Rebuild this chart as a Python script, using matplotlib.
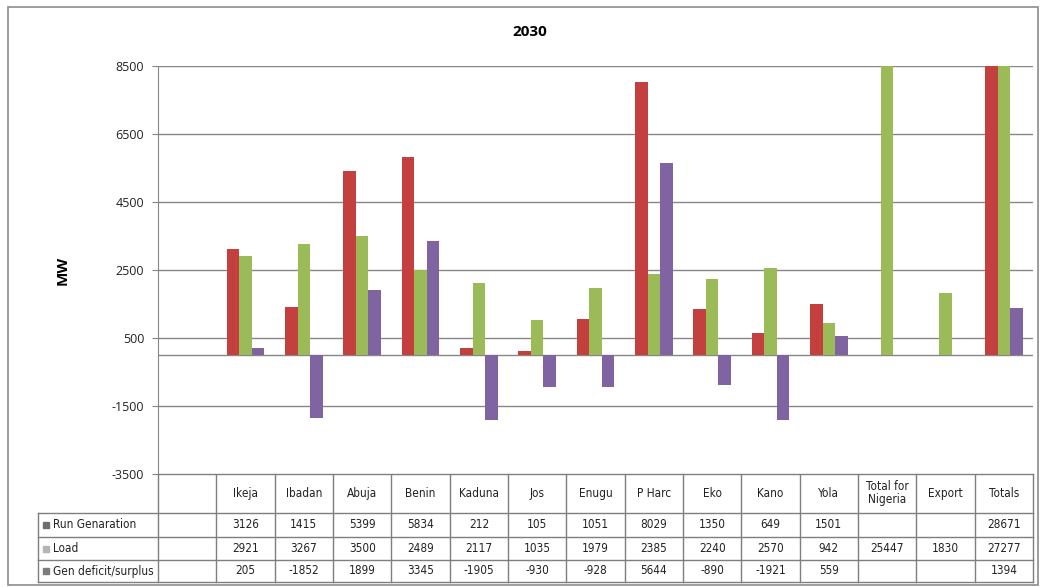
import numpy as np
import matplotlib.pyplot as plt
from matplotlib.patches import Rectangle

# first slot of the category axis is left blank in the source workbook
regions = ['', 'Ikeja', 'Ibadan', 'Abuja', 'Benin', 'Kaduna', 'Jos', 'Enugu', 'P Harc',
           'Eko', 'Kano', 'Yola', 'Total for\nNigeria', 'Export', 'Totals']
nan = np.nan
run_gen = [nan, 3126, 1415, 5399, 5834, 212, 105, 1051, 8029, 1350, 649, 1501, nan, nan, 28671]
load = [nan, 2921, 3267, 3500, 2489, 2117, 1035, 1979, 2385, 2240, 2570, 942, 25447, 1830, 27277]
gen_balance = [nan, 205, -1852, 1899, 3345, -1905, -930, -928, 5644, -890, -1921, 559, nan, nan, 1394]

series_names = ['Run Genaration', 'Load', 'Gen deficit/surplus']
series_colors = ['#C4403F', '#9BBB59', '#8064A2']
key_colors = ['#6E6E6E', '#B4B4B4', '#7C7C7C']
y_ticks = [-3500, -1500, 500, 2500, 4500, 6500, 8500]

W, H = 1043, 587
fig = plt.figure(figsize=(W / 100, H / 100), dpi=100)

# plot area in pixels
px_left, px_right, px_top, px_bottom = 158, 1033, 66, 474
ax = fig.add_axes([px_left / W, 1 - px_bottom / H,
                   (px_right - px_left) / W, (px_bottom - px_top) / H])

n = len(regions)
x = np.arange(n)
bw = 0.216
for k, (vals, col) in enumerate(zip([run_gen, load, gen_balance], series_colors)):
    ax.bar(x + (k - 1) * bw, vals, width=bw, color=col, zorder=3)

ax.set_xlim(-0.5, n - 0.5)
ax.set_ylim(-3500, 8500)
ax.set_yticks(y_ticks)
ax.set_yticklabels([str(t) for t in y_ticks], fontsize=9, family='Open Sans', color='#222222')
ax.set_xticks([])
ax.grid(axis='y', color='#868686', linewidth=1, zorder=0)
ax.axhline(0, color='#868686', linewidth=1, zorder=2)
for s in ['top', 'right', 'bottom']:
    ax.spines[s].set_visible(False)
ax.spines['left'].set_color('#868686')
ax.tick_params(axis='y', length=4, color='#868686', pad=6)

ax.set_ylabel('MW', fontsize=11, fontweight='bold', family='Open Sans', labelpad=30)
fig.text(530 / W, 1 - 32 / H, '2030', ha='center', va='center',
         fontsize=11, fontweight='bold', family='Open Sans')

# data table drawn in pixel coordinates under the plot
tab = fig.add_axes([0, 0, 1, 1], zorder=-1)
tab.set_xlim(0, W)
tab.set_ylim(H, 0)
tab.axis('off')

line_kw = dict(color='#7F7F7F', linewidth=1)
col_w = (px_right - px_left) / n
label_left = 38
row_edges = [px_bottom, 513, 537, 560, 582]
table_font = dict(family='DejaVu Sans', stretch='condensed', fontsize=8.5, color='#222222')

for i in range(n + 1):
    xv = px_left + i * col_w
    tab.plot([xv, xv], [row_edges[0], row_edges[-1]], **line_kw)
tab.plot([label_left, label_left], [row_edges[1], row_edges[-1]], **line_kw)
tab.plot([px_left, px_right], [row_edges[0], row_edges[0]], **line_kw)
for yv in row_edges[1:]:
    tab.plot([label_left, px_right], [yv, yv], **line_kw)

for i, name in enumerate(regions):
    cx = px_left + (i + 0.5) * col_w
    tab.text(cx, (row_edges[0] + row_edges[1]) / 2, name, ha='center', va='center',
             linespacing=1.0, **table_font)

for r, (vals, kc, name) in enumerate(zip([run_gen, load, gen_balance], key_colors, series_names)):
    cy = (row_edges[r + 1] + row_edges[r + 2]) / 2
    tab.add_patch(Rectangle((43, cy - 3), 6, 6, color=kc))
    tab.text(53, cy, name, ha='left', va='center', **table_font)
    for i, v in enumerate(vals):
        if np.isnan(v):
            continue
        cx = px_left + (i + 0.5) * col_w
        tab.text(cx, cy, f'{v:.0f}', ha='center', va='center', **table_font)

# chart border
tab.add_patch(Rectangle((8, 7), 1030, 578, fill=False, edgecolor='#8C8C8C', linewidth=1.2))

fig.savefig('out.png', dpi=100)
